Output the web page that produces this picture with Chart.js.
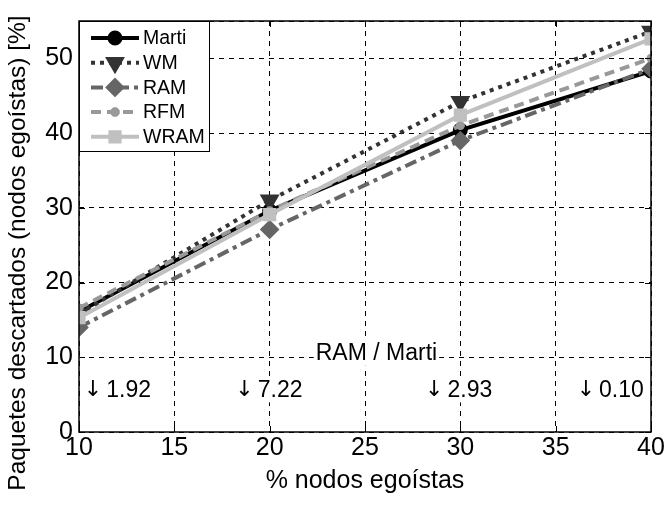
<!DOCTYPE html>
<html>
<head>
<meta charset="utf-8">
<script src="https://cdn.jsdelivr.net/npm/chart.js@4"></script>
<style>
  html, body { margin: 0; padding: 0; background: #fff; }
  #wrap { width: 667px; height: 510px; }
</style>
</head>
<body>
<div id="wrap"><canvas id="chart"></canvas></div>
<script>
// % de nodos egoístas
const xValues = [10, 20, 30, 40];

// Paquetes descartados por cada mecanismo
const marti = [16.1, 29.6, 40.4, 48.3];
const wm    = [15.8, 31.0, 44.2, 53.6];
const ram   = [14.0, 27.1, 39.0, 48.6];
const rfm   = [16.6, 29.6, 41.0, 50.0];
const wram  = [15.3, 29.1, 42.4, 52.6];

// RAM / Marti
const ratioLabels = ['1.92', '7.22', '2.93', '0.10'];
const ratioX = [10.25, 18.2, 28.15, 36.1];
const ratioY = 5.7;
const ratioTitle = 'RAM / Marti';

const yTitle = 'Paquetes descartados (nodos egoístas) [%]';

const FONT = '"Liberation Sans", Arial, sans-serif';

const toPts = arr => arr.map((v, i) => ({ x: xValues[i], y: v }));

const datasets = [
  { label: 'Marti', data: toPts(marti), borderColor: '#000', backgroundColor: '#000',
    borderWidth: 4, pointStyle: 'circle', pointRadius: 5.5, order: 5 },
  { label: 'WM', data: toPts(wm), borderColor: '#333', backgroundColor: '#333',
    borderWidth: 4, borderDash: [4, 5], pointStyle: 'triangle', pointRotation: 180,
    pointRadius: 7.5, order: 4 },
  { label: 'RAM', data: toPts(ram), borderColor: '#666', backgroundColor: '#666',
    borderWidth: 4, borderDash: [12, 5, 4, 5], pointStyle: 'rectRot', pointRadius: 7, order: 3 },
  { label: 'RFM', data: toPts(rfm), borderColor: '#999', backgroundColor: '#999',
    borderWidth: 4, borderDash: [10, 6], pointStyle: 'star', pointRadius: 4.5,
    pointBorderWidth: 3, order: 2 },
  { label: 'WRAM', data: toPts(wram), borderColor: '#c0c0c0', backgroundColor: '#c0c0c0',
    borderWidth: 4, pointStyle: 'rect', pointRadius: 6.5, order: 1 }
];

// marco, ticks hacia dentro, textos y leyenda
const extras = {
  id: 'extras',
  afterDatasetsDraw(chart) {
    const { ctx, chartArea: a, scales: { x, y } } = chart;
    ctx.save();

    // titulo del eje y (centrado en la figura, no en el eje)
    ctx.save();
    ctx.translate(18, 253);
    ctx.rotate(-Math.PI / 2);
    ctx.font = '24.5px ' + FONT;
    ctx.fillStyle = '#000';
    ctx.textAlign = 'center';
    ctx.textBaseline = 'middle';
    ctx.fillText(yTitle, 0, 0);
    ctx.restore();

    // textos RAM / Marti con fondo blanco
    ctx.textBaseline = 'middle';
    const drawBoxed = (txt, px, py, align, arrow) => {
      ctx.font = '23px ' + FONT;
      let w = ctx.measureText(txt).width;
      let aw = 0;
      if (arrow) {
        ctx.font = '22px "DejaVu Sans"';
        aw = ctx.measureText('\u2193').width + 4;
      }
      const left = align === 'center' ? px - (w + aw) / 2 : px;
      ctx.fillStyle = '#fff';
      ctx.fillRect(left - 2, py - 13, w + aw + 4, 26);
      ctx.fillStyle = '#000';
      ctx.textAlign = 'left';
      if (arrow) {
        ctx.font = '22px "DejaVu Sans"';
        ctx.fillText('\u2193', left, py + 1);
      }
      ctx.font = '23px ' + FONT;
      ctx.fillText(txt, left + aw, py + 1);
    };
    drawBoxed(ratioTitle, x.getPixelForValue(25.6), y.getPixelForValue(10.6), 'center', false);
    ratioLabels.forEach((t, i) => {
      drawBoxed(t, x.getPixelForValue(ratioX[i]), y.getPixelForValue(ratioY), 'left', true);
    });

    // marco
    ctx.strokeStyle = '#000';
    ctx.lineWidth = 1.5;
    ctx.setLineDash([]);
    ctx.strokeRect(a.left, a.top, a.right - a.left, a.bottom - a.top);

    // ticks hacia dentro
    ctx.lineWidth = 1;
    ctx.beginPath();
    x.ticks.forEach(t => {
      const px = Math.round(x.getPixelForValue(t.value)) + 0.5;
      ctx.moveTo(px, a.bottom); ctx.lineTo(px, a.bottom - 6);
      ctx.moveTo(px, a.top); ctx.lineTo(px, a.top + 6);
    });
    y.ticks.forEach(t => {
      const py = Math.round(y.getPixelForValue(t.value)) + 0.5;
      ctx.moveTo(a.left, py); ctx.lineTo(a.left + 6, py);
      ctx.moveTo(a.right, py); ctx.lineTo(a.right - 6, py);
    });
    ctx.stroke();

    // leyenda
    const lx = a.left, ly = a.top, lw = 130, lh = 130;
    ctx.fillStyle = '#fff';
    ctx.fillRect(lx, ly, lw, lh);
    ctx.strokeRect(lx + 0.5, ly + 0.5, lw, lh);
    ctx.font = '19.5px ' + FONT;
    chart.data.datasets.forEach((ds, i) => {
      const ry = ly + 17 + i * 24.7;
      ctx.strokeStyle = ds.borderColor;
      ctx.lineWidth = ds.borderWidth;
      ctx.setLineDash(ds.borderDash || []);
      ctx.beginPath();
      ctx.moveTo(lx + 12, ry); ctx.lineTo(lx + 60, ry);
      ctx.stroke();
      ctx.setLineDash([]);
      Chart.helpers.drawPoint(ctx, {
        pointStyle: ds.pointStyle, rotation: ds.pointRotation || 0,
        radius: ds.pointRadius, borderWidth: ds.pointBorderWidth || 1
      }, lx + 36, ry);
      ctx.fillStyle = ds.borderColor;
      ctx.strokeStyle = ds.borderColor;
      ctx.lineWidth = ds.pointBorderWidth || 1;
      ctx.fill();
      ctx.stroke();
      ctx.fillStyle = '#000';
      ctx.textAlign = 'left';
      ctx.fillText(ds.label, lx + 64, ry + 1);
    });
    ctx.restore();
  }
};

new Chart(document.getElementById('chart'), {
  type: 'line',
  data: { datasets },
  options: {
    responsive: true,
    maintainAspectRatio: false,
    animation: false,
    layout: { padding: { top: 17, right: 16, left: 0, bottom: 0 } },
    plugins: { legend: { display: false }, tooltip: { enabled: false } },
    scales: {
      x: {
        type: 'linear', min: 10, max: 40,
        ticks: { stepSize: 5, color: '#000', padding: 1, font: { family: FONT, size: 25 } },
        grid: { color: '#000', lineWidth: 1, drawTicks: false },
        border: { display: false, dash: [5, 5] },
        title: { display: true, text: '% nodos egoístas', color: '#000',
                 padding: { top: 0, bottom: 14 }, font: { family: FONT, size: 25 } },
        afterFit: s => { s.height = 78; }
      },
      y: {
        type: 'linear', min: 0, max: 55,
        ticks: { stepSize: 10, color: '#000', padding: 6, font: { family: FONT, size: 25 },
                 callback: v => (v % 10 === 0 ? v : '') },
        grid: { color: '#000', lineWidth: 1, drawTicks: false },
        border: { display: false, dash: [5, 5] },
        afterFit: s => { s.width = 79; }
      }
    }
  },
  plugins: [extras]
});
</script>
</body>
</html>
